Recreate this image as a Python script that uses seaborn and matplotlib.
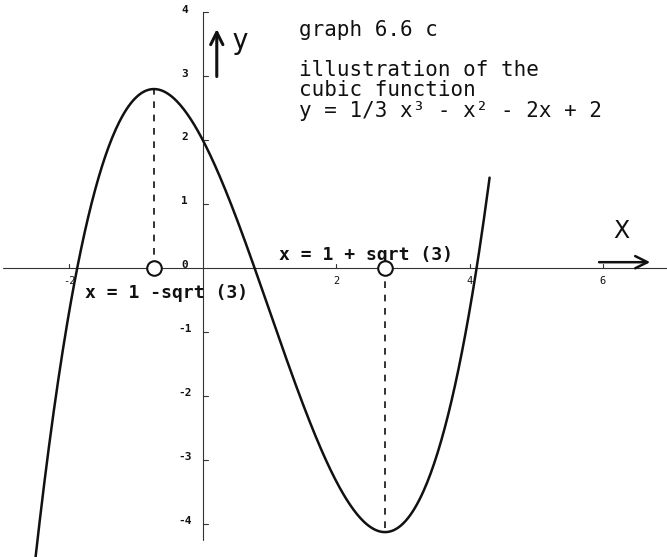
import numpy as np
import pandas as pd
import matplotlib
matplotlib.use("Agg")
import matplotlib.pyplot as plt
import seaborn as sns

# y = 1/3 x^3 - x^2 - 2x + 2
coefficients = [1 / 3, -1, -2, 2]
x_start, x_end = -2.6, 4.3
extrema_x = [1 - np.sqrt(3), 1 + np.sqrt(3)]
extrema_labels = ["x = 1 -sqrt (3)", "x = 1 + sqrt (3)"]
x_tick_values = [-2, 2, 4, 6]
x_tick_labels = ["-2", "2", "4", "6"]
y_tick_values = [4, 3, 2, 1, 0, -1, -2, -3, -4]
y_tick_labels = ["4", "3", "2", "1", "0", "-1", "-2", "-3", "-4"]
title_lines = ["graph 6.6 c", "illustration of the", "cubic function",
               "y = 1/3 x\u00b3 - x\u00b2 - 2x + 2"]

sns.set_theme(style="white")
plt.rcParams["font.family"] = ["DejaVu Sans Mono", "DejaVu Sans"]

fig = plt.figure(figsize=(6.67, 5.57), dpi=100)
ax = fig.add_axes([0, 0, 1, 1])
ax.set_xlim(-3.04, 6.96)
ax.set_ylim(-4.52, 4.19)
ax.set_axis_off()

ink = "#111111"

# coordinate axes through the origin
ax.plot([-3.0, 6.96], [0, 0], color="#333333", lw=0.8, zorder=1)
ax.plot([0, 0], [4.0, -4.25], color="#333333", lw=0.8, zorder=1)
for xv in x_tick_values:
    ax.plot([xv, xv], [0, 0.06], color="#333333", lw=0.8)
for yv in y_tick_values:
    if yv != 0:
        ax.plot([0, 0.08], [yv, yv], color="#333333", lw=0.8)

for xv, lab in zip(x_tick_values, x_tick_labels):
    ax.text(xv, -0.2, lab, ha="center", va="center", fontsize=7.5, color=ink)
for yv, lab in zip(y_tick_values, y_tick_labels):
    ax.text(-0.27, yv + 0.04, lab, ha="center", va="center", fontsize=8,
            fontweight="bold", color=ink)

# the cubic curve
xs = np.linspace(x_start, x_end, 400)
curve = pd.DataFrame({"x": xs, "y": np.polyval(coefficients, xs)})
sns.lineplot(data=curve, x="x", y="y", color=ink, lw=1.8, ax=ax, sort=False)

# extrema: dashed drops to the x axis and open circles
ext_y = np.polyval(coefficients, extrema_x)
for xe, ye in zip(extrema_x, ext_y):
    ax.plot([xe, xe], [0, ye], color=ink, lw=1.2, ls=(0, (4, 4)))
sns.scatterplot(x=extrema_x, y=[0, 0], ax=ax, s=110, facecolor="white",
                edgecolor=ink, linewidth=1.5, zorder=5)

ax.text(-1.77, -0.39, extrema_labels[0], ha="left", va="center",
        fontsize=13, fontweight="bold", color=ink)
ax.text(1.15, 0.2, extrema_labels[1], ha="left", va="center",
        fontsize=13, fontweight="bold", color=ink)

# axis arrows and names
ax.annotate("", xy=(0.21, 3.78), xytext=(0.21, 2.95),
            arrowprops=dict(arrowstyle="->", color=ink, lw=2.2,
                            mutation_scale=22))
ax.text(0.56, 3.55, "y", ha="center", va="center", fontsize=20, color=ink)
ax.annotate("", xy=(6.75, 0.09), xytext=(5.9, 0.09),
            arrowprops=dict(arrowstyle="->", color=ink, lw=1.8,
                            mutation_scale=22))
ax.text(6.27, 0.58, "X", ha="center", va="center", fontsize=17,
        family="DejaVu Sans", color=ink)

# caption block
title_y = [3.72, 3.10, 2.78, 2.46]
for txt, ty in zip(title_lines, title_y):
    ax.text(1.45, ty, txt, ha="left", va="center", fontsize=15, color=ink)

fig.savefig("out.png", dpi=100)
